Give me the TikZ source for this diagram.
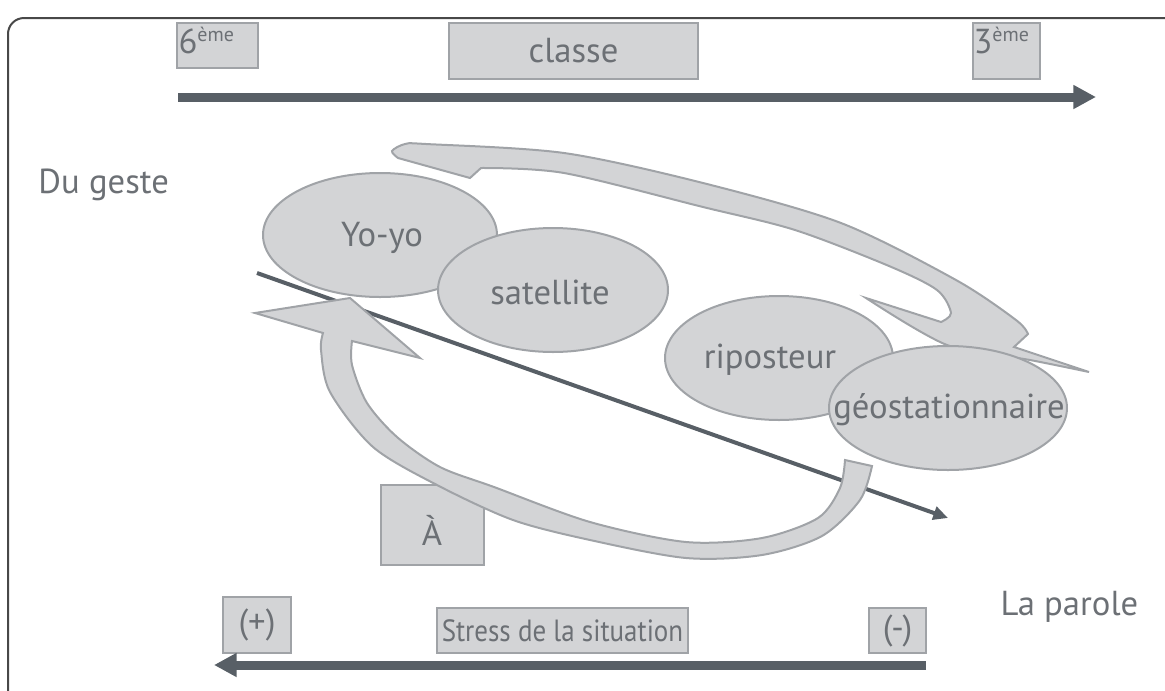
\documentclass[tikz,border=0pt]{standalone}
\usepackage{fontspec}
\setmainfont{PT Sans}
\newfontfamily\etroit[FakeStretch=0.88]{PT Sans}
\usetikzlibrary{shapes.geometric,arrows.meta}

\definecolor{fond}{RGB}{211,212,214}
\definecolor{cadre}{RGB}{160,163,167}
\definecolor{fonce}{RGB}{88,95,102}
\definecolor{texte}{RGB}{108,112,117}
\definecolor{bord}{RGB}{72,72,72}

\tikzset{every picture/.style={line width=0.75pt}}
\tikzset{
  boite/.style={draw=cadre, fill=fond, line width=1.5, inner sep=0pt},
  bulle/.style={ellipse, draw=cadre, fill=fond, line width=1.5, inner sep=0pt},
  etiq/.style={text=texte, inner sep=0pt, font=\fontsize{26}{30}\selectfont},
  flechegrosse/.style={draw=fonce, line width=6.75pt, -{Triangle[length=17pt,width=17pt]}},
  flechefine/.style={draw=fonce, line width=3pt, -{Triangle[length=11pt,width=10pt]}},
  ruban/.style={draw=cadre, fill=fond, line width=1.5},
}

\begin{document}
\begin{tikzpicture}[x=0.75pt,y=0.75pt,yscale=-1,xscale=1]
        \useasboundingbox (0,0) rectangle (1165,690);

        % Cadre
        \begin{scope}
          \clip (0,0) rectangle (1165,690);
          \draw [bord, line width=1.5, rounded corners=12] (8,18) rectangle (1190,720);
        \end{scope}

        % Niveaux de classe
        \node [boite, minimum width=60.75pt, minimum height=33.75pt] (six) at (217.5,45.5) {};
        \node [etiq, anchor=north west] (sixtxt) at (178,27) {6\raisebox{9pt}{\fontsize{15}{16}\selectfont ème}};
        \node [boite, minimum width=186.75pt, minimum height=42pt] (classe) at (573.5,51) {};
        \node [etiq] (classetxt) at (classe) {classe};
        \node [boite, minimum width=50.25pt, minimum height=42pt] (trois) at (1006.5,51) {};
        \node [etiq, anchor=north west] (troistxt) at (973,27) {3\raisebox{9pt}{\fontsize{15}{16}\selectfont ème}};
        \coordinate (hautdep) at (178,97);
        \coordinate (hautfin) at (1096,97);
        \draw [flechegrosse] (hautdep) -- (hautfin);

        % Textes lateraux
        \node [etiq, anchor=west] (geste) at (38,185) {Du geste};
        \node [etiq, anchor=west] (parole) at (1000,607) {La parole};

        % Fleche du haut
        \filldraw [ruban] (470,178) -- plot [smooth] coordinates {(398,158) (392,151) (405,144) (426,144) (564,153) (703,183) (841,223) (956,280) (1016,320) (1028,334)}
          -- (1014,347) -- (1089,372) -- plot [smooth] coordinates {(1089,372) (1030,360) (947,345) (866,298)}
          -- (941,322) -- plot [smooth] coordinates {(941,322) (951,313) (937,290) (889,266) (795,230) (703,207) (564,173) (481,168)} -- cycle;

        % Bulles
        \node [bulle, minimum width=175.5pt, minimum height=93pt] (yoyo) at (380,235) {};
        \node [etiq] (yoyotxt) at (382,238) {Yo-yo};
        \node [bulle, minimum width=172.5pt, minimum height=93pt] (satellite) at (553,290) {};
        \node [etiq] (satellitetxt) at (550,292) {satellite};
        \node [bulle, minimum width=171pt, minimum height=93pt] (riposteur) at (779,358) {};
        \node [etiq] (riposteurtxt) at (770,360) {riposteur};
        \node [bulle, minimum width=178.5pt, minimum height=93pt] (geo) at (948,408) {};
        \node [etiq] (geotxt) at (949,410) {géostationnaire};

        % Case A
        \node [boite, minimum width=77.25pt, minimum height=60pt] (case) at (432.5,525) {};
        \node [etiq] (casetxt) at (432,530) {À};

        % Fleche diagonale
        \coordinate (diagdep) at (257,273);
        \coordinate (diagfin) at (948,518);
        \draw [flechefine] (diagdep) -- (diagfin);

        % Fleche du bas
        \filldraw [ruban] (323,333) -- plot [smooth] coordinates {(323,333) (321,350) (330,392) (373,447) (437,485) (513,520) (590,540) (686,558) (762,555) (822,536) (860,500) (872,466)}
          -- (845,460) -- plot [smooth] coordinates {(845,460) (840,488) (818,518) (762,538) (686,542) (590,522) (494,487) (440,467) (397,437) (367,403) (352,365) (352,341)}
          -- (420,358) -- (350,298) -- (255,313) -- cycle;

        % Stress
        \node [boite, minimum width=51pt, minimum height=42pt] (plus) at (257,625) {};
        \node [etiq] (plustxt) at (plus) {(+)};
        \node [boite, minimum width=188.25pt, minimum height=33.75pt] (stress) at (562.5,630.5) {};
        \node [etiq, font=\etroit\fontsize{23}{27}\selectfont] (stresstxt) at (stress) {Stress de la situation};
        \node [boite, minimum width=42.75pt, minimum height=33.75pt] (moins) at (897.5,630.5) {};
        \node [etiq] (moinstxt) at (moins) {(-)};
        \coordinate (basdep) at (926,665);
        \coordinate (basfin) at (214,665);
        \draw [flechegrosse] (basdep) -- (basfin);
\end{tikzpicture}
\end{document}
